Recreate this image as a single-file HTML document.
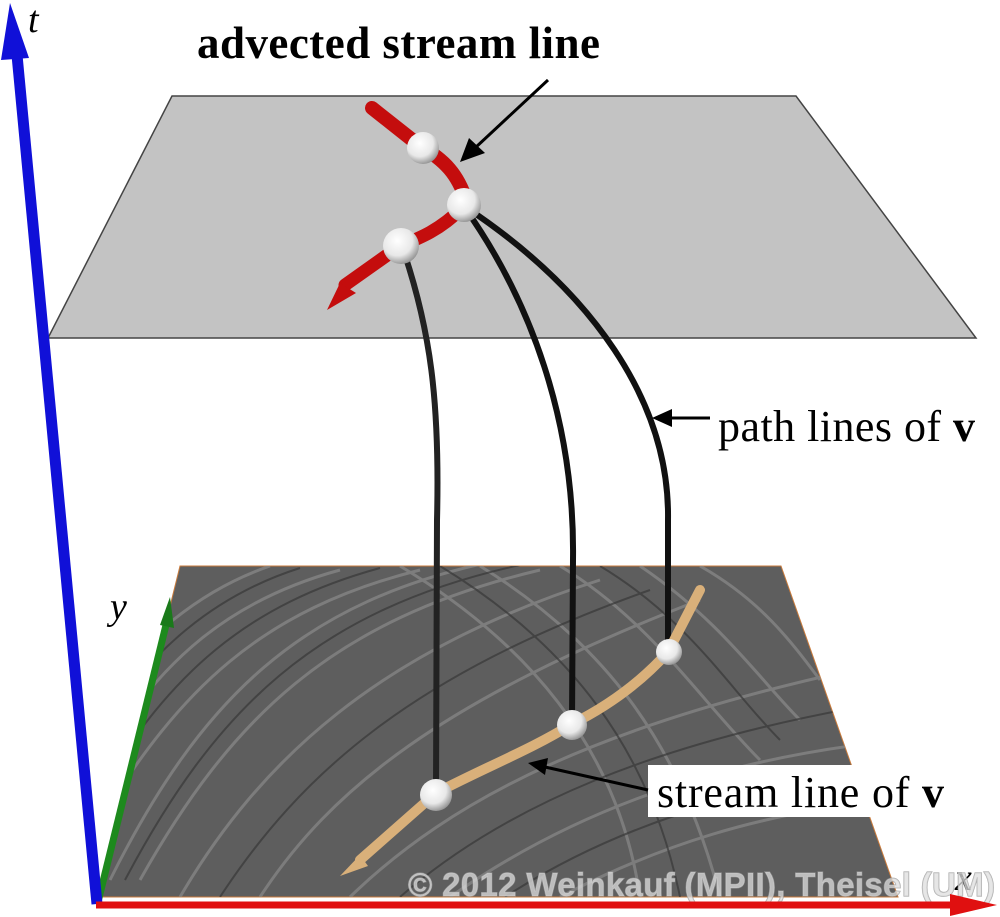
<!DOCTYPE html>
<html><head><style>html,body{margin:0;padding:0;background:#fff;width:1000px;height:917px;overflow:hidden}</style></head>
<body>
<svg width="1000" height="917" viewBox="0 0 1000 917" xmlns="http://www.w3.org/2000/svg">
<defs>
<radialGradient id="sph" cx="0.4" cy="0.35" r="0.7"><stop offset="0" stop-color="#fff"/><stop offset="0.6" stop-color="#e8e8e8"/><stop offset="1" stop-color="#8a8a8a"/></radialGradient>
<clipPath id="bp"><polygon points="180,566 781,566 898,897 98,897"/></clipPath>
</defs>
<polygon points="172,96 796,96 976,338 48,338" fill="#c3c3c3" stroke="#444" stroke-width="1.5"/>
<polygon points="180,566 781,566 898,897 98,897" fill="#5e5e5e" stroke="#c97b3c" stroke-width="1"/>
<g clip-path="url(#bp)" fill="none" stroke-width="3">
<g stroke="#8a8a8a" opacity="0.7">
<path d="M110,880 C200,700 300,600 500,560"/><path d="M140,880 C230,720 330,620 540,570"/>
<path d="M100,820 C180,690 260,610 420,570"/><path d="M100,760 C160,660 230,600 340,570"/>
<path d="M100,700 C140,640 200,590 270,566"/><path d="M180,897 C260,760 380,650 600,580"/>
<path d="M260,897 C330,790 440,700 700,600"/><path d="M350,897 C450,800 600,720 900,660"/>
<path d="M450,897 C560,820 700,760 900,740"/><path d="M560,897 C650,850 760,810 900,800"/>
<path d="M560,566 C650,620 700,700 760,760"/><path d="M640,566 C720,620 760,680 800,720"/>
<path d="M700,566 C760,600 790,640 820,680"/><path d="M480,566 C600,640 680,740 720,897"/>
<path d="M400,566 C540,650 620,760 640,897"/>
</g>
<g stroke="#383838" opacity="0.7" stroke-width="2">
<path d="M125,880 C215,710 315,610 520,565"/><path d="M100,790 C170,675 245,605 380,568"/>
<path d="M220,897 C300,775 410,675 650,590"/><path d="M400,897 C500,810 650,740 900,700"/>
<path d="M600,566 C690,620 730,690 780,740"/><path d="M440,566 C570,645 650,750 680,897"/>
<path d="M100,730 C150,650 215,595 300,568"/><path d="M505,897 C600,835 730,785 900,770"/>
</g>
</g>
<line x1="98" y1="902" x2="166" y2="625" stroke="#1d8a1d" stroke-width="7"/>
<polygon points="170,597 160,625 174,628" fill="#1a7a1a"/>
<line x1="97" y1="904" x2="17" y2="55" stroke="#1010d8" stroke-width="11"/>
<polygon points="10,3 1,60 29,58" fill="#1010d8"/>
<g fill="none" stroke="#111" stroke-width="6" stroke-linecap="round">
<path d="M404,252 C430,330 440,400 437,520 L436,790" stroke="#222"/>
<path d="M465,208 C530,300 575,420 573,560 L572,722"/>
<path d="M467,208 C590,290 670,400 668,520 L668,650"/>
</g>
<g fill="none" stroke="#c40d0d" stroke-linecap="round">
<path d="M372,108 L420,146 C445,160 458,175 466,200" stroke-width="14"/>
<path d="M462,208 C440,230 420,238 400,246 L345,285" stroke-width="13"/>
</g>
<polygon points="327,310 340,283 356,293" fill="#c40d0d"/>
<path d="M360,860 L436,793 C490,765 530,750 572,724 C620,700 650,672 668,652 L700,590" fill="none" stroke="#d9b07a" stroke-width="10" stroke-linecap="round"/>
<polygon points="340,876 360,855 368,866" fill="#d9b07a"/>
<circle cx="423" cy="148" r="16" fill="url(#sph)"/>
<circle cx="464" cy="205" r="17" fill="url(#sph)"/>
<circle cx="401" cy="246" r="18" fill="url(#sph)"/>
<circle cx="436" cy="795" r="16" fill="url(#sph)"/>
<circle cx="572" cy="725" r="15" fill="url(#sph)"/>
<circle cx="669" cy="652" r="13" fill="url(#sph)"/>
<text x="197" y="58" font-family="Liberation Serif" font-weight="bold" font-size="45" textLength="403">advected stream line</text>
<line x1="548" y1="80" x2="475" y2="148" stroke="#000" stroke-width="3"/>
<polygon points="460,162 469,138 485,153" fill="#000"/>
<text x="718" y="441" font-family="Liberation Serif" font-size="44" textLength="257">path lines of <tspan font-weight="bold">v</tspan></text>
<line x1="710" y1="418" x2="670" y2="418" stroke="#000" stroke-width="3"/>
<polygon points="652,418 672,409 672,427" fill="#000"/>
<rect x="648" y="765" width="239" height="52" fill="#fff"/>
<text x="657" y="807" font-family="Liberation Serif" font-size="44" textLength="287">stream line of <tspan font-weight="bold">v</tspan></text>
<line x1="648" y1="790" x2="545" y2="767" stroke="#000" stroke-width="3"/>
<polygon points="528,763 548,758 545,775" fill="#000"/>
<text x="28" y="32" font-family="Liberation Serif" font-style="italic" font-size="38">t</text>
<text x="110" y="619" font-family="Liberation Serif" font-style="italic" font-size="38">y</text>
<text x="955" y="890" font-family="Liberation Serif" font-style="italic" font-size="38">x</text>
<text x="408" y="896" font-family="Liberation Sans" font-weight="bold" font-size="33" fill="#ddd" fill-opacity="0.75" stroke="#999" stroke-width="1.2" stroke-opacity="0.8" paint-order="stroke" textLength="587">© 2012 Weinkauf (MPII), Theisel (UM)</text>
<line x1="96" y1="905" x2="955" y2="905" stroke="#e01010" stroke-width="7"/>
<polygon points="997,905 950,894 950,916" fill="#e01010"/>
</svg>
</body></html>
